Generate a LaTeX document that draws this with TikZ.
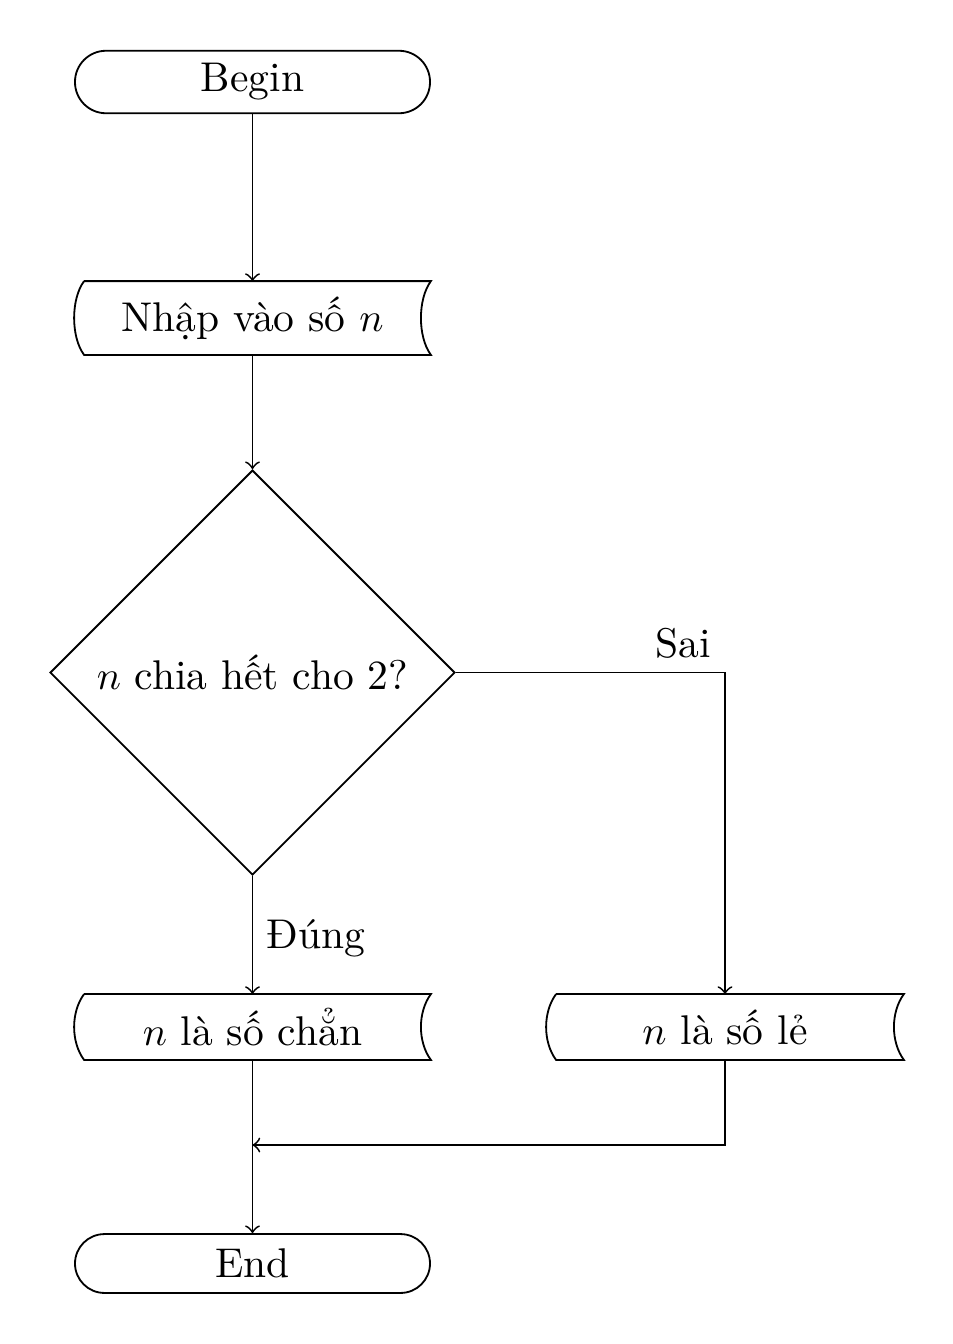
\documentclass[tikz,border=0pt]{standalone}
\usepackage{fontspec}
\usetikzlibrary{shapes.geometric}
\tikzset{
  term/.style={draw, rounded corners=#1, inner sep=0pt, minimum width=88.04pt},
  iobox/.style={inner sep=0pt, minimum width=88.04pt},
  decision/.style={draw, diamond, inner sep=0pt, minimum width=100.4pt, minimum height=100.4pt},
  line/.style={draw, ->},
}
\newcommand{\storedshape}[1]{%
  \draw ([xshift=2.48pt]#1.north west) -- (#1.north east)
    .. controls +(-13.3,18) and +(-13.3,-18) .. (#1.south east)
    -- ([xshift=2.48pt]#1.south west)
    .. controls +(-13.3,-18) and +(-13.3,18) .. ([xshift=2.48pt]#1.north west);}
\begin{document}
\begin{tikzpicture}[x=0.248pt, y=-0.248pt, line width=0.45pt, font=\fontsize{10.3}{12.4}\selectfont]
\useasboundingbox (0,0) rectangle (953,1344);
\node[term=7.7pt, minimum height=15.5pt] (begin) at (252.5,82) {Begin};
\node[iobox, minimum height=17.86pt] (input) at (252.5,318) {Nhập vào số $n$};
\storedshape{input}
\node[decision] (dec) at (252.5,672.5) {$n$ chia hết cho 2?};
\node[iobox, minimum height=15.9pt] (chan) at (252.5,1027) {$n$ là số chẳn};
\storedshape{chan}
\node[iobox, minimum height=15.9pt, minimum width=88.29pt] (le) at (725,1027) {$n$ là số lẻ};
\storedshape{le}
\node[term=7.3pt, minimum height=14.6pt] (end) at (252.5,1263.5) {End};
\coordinate (join) at (252.5,1145);
\draw[line] (begin) -- (input);
\draw[line] (input) -- (dec);
\draw[line] (dec) -- node[right, pos=0.53] {Đúng} (chan);
\draw[line] (dec.east) -| node[pos=0.5, above left] {Sai} (le.north);
\draw[line] (chan) -- (end);
\draw[line] (le.south) |- (join);
\end{tikzpicture}
\end{document}
